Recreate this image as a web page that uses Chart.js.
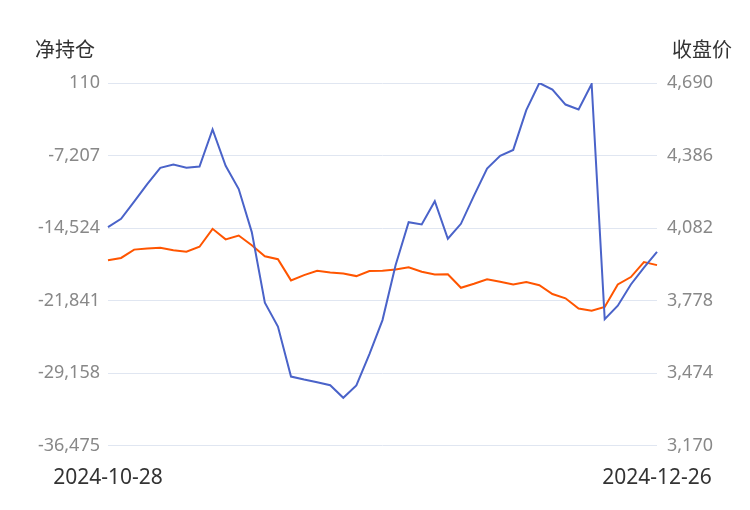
<!DOCTYPE html>
<html>
<head>
<meta charset="utf-8">
<script src="https://cdn.jsdelivr.net/npm/chart.js@4"></script>
<style>
  body { margin: 0; background: #fff; font-family: "Noto Sans CJK SC", "Noto Sans", sans-serif; }
  #wrap { position: relative; width: 750px; height: 510px; }
  .ttl { position: absolute; top: 34px; font-size: 20px; color: #333; }
</style>
</head>
<body>
<div id="wrap">
  <div class="ttl" style="left:35px">净持仓</div>
  <div class="ttl" style="right:18px">收盘价</div>
  <canvas id="myChart" width="750" height="510"></canvas>
</div>
<script>
const dates = [
  '2024-10-28','2024-10-29','2024-10-30','2024-10-31','2024-11-01',
  '2024-11-04','2024-11-05','2024-11-06','2024-11-07','2024-11-08',
  '2024-11-11','2024-11-12','2024-11-13','2024-11-14','2024-11-15',
  '2024-11-18','2024-11-19','2024-11-20','2024-11-21','2024-11-22',
  '2024-11-25','2024-11-26','2024-11-27','2024-11-28','2024-11-29',
  '2024-12-02','2024-12-03','2024-12-04','2024-12-05','2024-12-06',
  '2024-12-09','2024-12-10','2024-12-11','2024-12-12','2024-12-13',
  '2024-12-16','2024-12-17','2024-12-18','2024-12-19','2024-12-20',
  '2024-12-23','2024-12-24','2024-12-26'
];
const netPosition = [
  -14424, -13588, -11852, -10080, -8443, -8109, -8443, -8310, -4568, -8243,
  -10582, -14925, -22042, -24447, -29492, -29793, -30060, -30361, -31630, -30395,
  -27220, -23800, -18266, -13922, -14156, -11817, -15593, -14089, -11249, -8510,
  -7240, -6639, -2630, 110, -558, -2062, -2563, 10, -23713, -22343,
  -20205, -18501, -16930
];
const closePrice = [
  3947, 3957, 3992, 3997, 4000, 3989, 3983, 4004, 4079, 4035,
  4051, 4010, 3964, 3952, 3863, 3885, 3903, 3896, 3892, 3881,
  3902, 3903, 3909, 3918, 3899, 3888, 3889, 3832, 3849, 3868,
  3857, 3846, 3856, 3843, 3806, 3788, 3745, 3736, 3752, 3846,
  3877, 3940, 3927
];
const leftTicks = [110, -7207, -14524, -21841, -29158, -36475];
const rightTicks = [4690, 4386, 4082, 3778, 3474, 3170];

const tickFont = { family: 'Noto Sans', size: 18 };

new Chart(document.getElementById('myChart').getContext('2d'), {
  type: 'line',
  data: {
    labels: dates,
    datasets: [
      { label: '净持仓', data: netPosition, yAxisID: 'y', borderColor: '#4a63c9', borderWidth: 2, pointRadius: 0, tension: 0 },
      { label: '收盘价', data: closePrice, yAxisID: 'y1', borderColor: '#ff5500', borderWidth: 2, pointRadius: 0, tension: 0 }
    ]
  },
  options: {
    responsive: false,
    animation: false,
    layout: { padding: { top: 83, bottom: 7, left: 0, right: 0 } },
    plugins: { legend: { display: false }, tooltip: { enabled: false } },
    scales: {
      x: {
        grid: { display: false },
        border: { display: false },
        ticks: {
          autoSkip: false, maxRotation: 0, color: '#333',
          font: { family: 'Noto Sans', size: 21 }, padding: 12,
          callback: function (v, i) { return (i === 0 || i === dates.length - 1) ? dates[i] : null; }
        }
      },
      y: {
        position: 'left', min: leftTicks[5], max: leftTicks[0],
        afterBuildTicks: function (s) { s.ticks = leftTicks.map(v => ({ value: v })); },
        afterFit: function (s) { s.width = 108; },
        grid: { color: '#e0e6f1', tickLength: 0 },
        border: { display: false },
        ticks: { color: '#888', font: tickFont, padding: 8, callback: v => v.toLocaleString('en-US') }
      },
      y1: {
        position: 'right', min: rightTicks[5], max: rightTicks[0],
        afterBuildTicks: function (s) { s.ticks = rightTicks.map(v => ({ value: v })); },
        afterFit: function (s) { s.width = 93; },
        grid: { display: false, tickLength: 0 },
        border: { display: false },
        ticks: { color: '#888', font: tickFont, padding: 10, callback: v => v.toLocaleString('en-US') }
      }
    }
  }
});
</script>
</body>
</html>
